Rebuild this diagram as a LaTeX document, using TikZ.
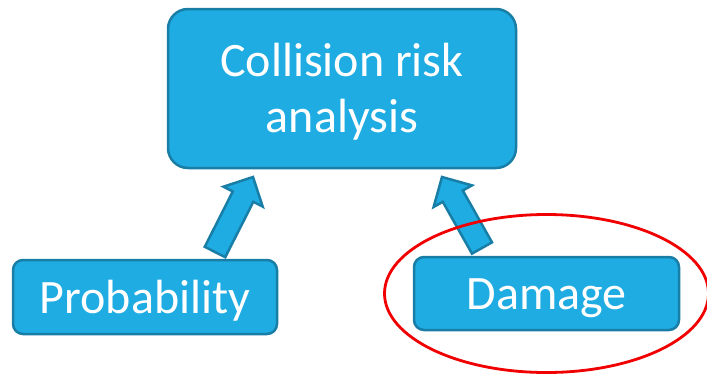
\documentclass[tikz,border=0pt]{standalone}
\usepackage{fontspec}
\setmainfont{Carlito}
\usepackage{tikz}
\usetikzlibrary{calc}
\definecolor{boxfill}{RGB}{31,172,227}
\definecolor{boxline}{RGB}{24,126,166}
\definecolor{markred}{RGB}{240,0,0}
\tikzset{
  block/.style={draw=boxline,fill=boxfill,line width=2.5pt,text=white,
    align=center,inner sep=0pt,text height=34pt,text depth=2pt,
    font=\fontsize{48}{56}\selectfont},
  bigarrow/.style={draw=boxline,fill=boxfill,line width=2.5pt,line join=miter}
}
\begin{document}
\begin{tikzpicture}[x=1pt,y=-1pt]
    \useasboundingbox (0,0) rectangle (707,375);
    % boxes
    \node[block,rounded corners=20pt,minimum width=348pt,minimum height=159pt,
        text height=90pt,text depth=3pt]
        (analysis) at (342,88.5) {Collision risk\\analysis};
    \node[block,rounded corners=10pt,minimum width=264pt,minimum height=74pt]
        (prob) at (145,297) {Probability};
    \node[block,rounded corners=10pt,minimum width=265pt,minimum height=73pt]
        (damage) at (546.5,293.5) {Damage};
    % arrow ends
    \coordinate (ltail) at (215,252);
    \coordinate (ltip) at (253,177);
    \coordinate (rtail) at (482,248);
    \coordinate (rtip) at (442,177);
    \coordinate (lbase) at ($(ltip)!22pt!(ltail)$);
    \coordinate (rbase) at ($(rtip)!22pt!(rtail)$);
    % block arrows
    \filldraw[bigarrow] ($(ltail)!11.5pt!90:(ltip)$) -- ($(lbase)!11.5pt!-90:(ltail)$)
        -- ($(lbase)!22pt!-90:(ltail)$) -- (ltip) -- ($(lbase)!22pt!90:(ltail)$)
        -- ($(lbase)!11.5pt!90:(ltail)$) -- ($(ltail)!11.5pt!-90:(ltip)$) -- cycle;
    \filldraw[bigarrow] ($(rtail)!11.5pt!90:(rtip)$) -- ($(rbase)!11.5pt!-90:(rtail)$)
        -- ($(rbase)!22pt!-90:(rtail)$) -- (rtip) -- ($(rbase)!22pt!90:(rtail)$)
        -- ($(rbase)!11.5pt!90:(rtail)$) -- ($(rtail)!11.5pt!-90:(rtip)$) -- cycle;
    % mark
    \draw[markred,line width=2.8pt] (damage.center) ellipse [x radius=162, y radius=79];
\end{tikzpicture}
\end{document}
